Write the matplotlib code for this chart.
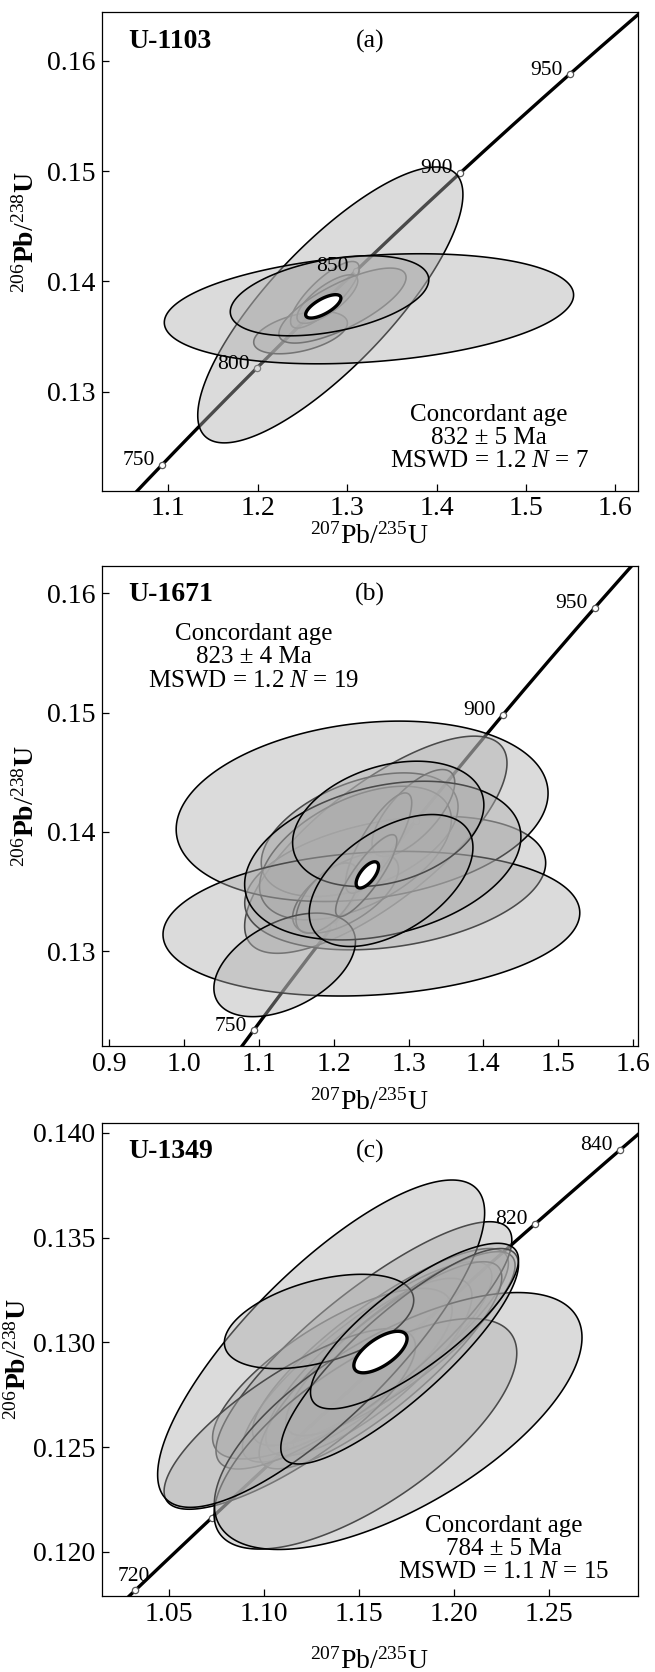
import numpy as np
import matplotlib
matplotlib.use('Agg')
import matplotlib.pyplot as plt

plt.rcParams['font.family'] = ['Liberation Serif', 'DejaVu Serif']
plt.rcParams['mathtext.fontset'] = 'custom'
plt.rcParams['mathtext.rm'] = 'Liberation Serif'
plt.rcParams['mathtext.it'] = 'Liberation Serif:italic'
plt.rcParams['mathtext.bf'] = 'Liberation Serif:bold'

# decay constants (1/yr) for the concordia curve
L238 = 1.55125e-10
L235 = 9.8485e-10

# --- (a) U-1103 : error ellipses, drawn in list order ---
# centre 207/235, centre 206/238, half-width, half-height, correlation
a_x = [1.2479, 1.2751, 1.2779, 1.2948, 1.2812, 1.3244, 1.2803]
a_y = [0.13536, 0.13879, 0.13840, 0.13781, 0.13787, 0.13752, 0.13870]
a_sx = [0.0524, 0.0384, 0.0340, 0.0711, 0.1483, 0.2289, 0.1110]
a_sy = [0.00192, 0.00302, 0.00220, 0.00340, 0.01251, 0.00499, 0.00363]
a_rho = [0.45, 0.80, 0.75, 0.75, 0.80, 0.25, 0.40]
a_conc = (1.2733, 0.13774, 0.0197, 0.00106, 0.70)
a_ages = [750, 800, 850, 900, 950]
a_labels = [750, 800, 850, 900, 950]

# --- (b) U-1671 ---
b_x = [1.2563, 1.2822, 1.2347, 1.2291, 1.2159, 1.1916, 1.3065, 1.2601,
       1.2380, 1.2504, 1.2435, 1.1345, 1.2656, 1.2729, 1.2767]
b_y = [0.13893, 0.13572, 0.13977, 0.13823, 0.13488, 0.13446, 0.14159, 0.13907,
       0.14173, 0.13231, 0.13634, 0.12886, 0.13760, 0.14068, 0.13593]
b_sx = [0.1753, 0.2011, 0.1315, 0.1282, 0.0707, 0.0420, 0.0553, 0.0442,
        0.2485, 0.2785, 0.0409, 0.0946, 0.1846, 0.1278, 0.1094]
b_sy = [0.00910, 0.00560, 0.00518, 0.00560, 0.00336, 0.00294, 0.00364, 0.00420,
        0.00756, 0.00606, 0.00343, 0.00434, 0.00665, 0.00525, 0.00553]
b_rho = [0.75, 0.30, 0.45, 0.50, 0.60, 0.60, 0.70, 0.80,
         0.20, 0.15, 0.85, 0.45, 0.30, 0.30, 0.50]
b_conc = (1.2450, 0.13640, 0.0150, 0.00110, 0.65)
b_ages = [750, 800, 850, 900, 950]
b_labels = [750, 900, 950]

# --- (c) U-1349 ---
c_x = [1.1542, 1.1612, 1.1551, 1.1359, 1.1717, 1.1612, 1.1525, 1.1135,
       1.1533, 1.1705, 1.1300, 1.1713, 1.1289, 1.1791]
c_y = [0.12907, 0.12978, 0.12883, 0.12851, 0.12994, 0.12891, 0.12986, 0.12635,
       0.12564, 0.12625, 0.12994, 0.12934, 0.13100, 0.13078]
c_sx = [0.0656, 0.0673, 0.0542, 0.0630, 0.0603, 0.0638, 0.0778, 0.0661,
        0.0796, 0.0967, 0.0860, 0.0625, 0.0498, 0.0547]
c_sy = [0.00478, 0.00470, 0.00423, 0.00407, 0.00439, 0.00494, 0.00590, 0.00431,
        0.00550, 0.00613, 0.00781, 0.00514, 0.00225, 0.00395]
c_rho = [0.85, 0.85, 0.80, 0.75, 0.85, 0.85, 0.85, 0.80,
         0.70, 0.65, 0.80, 0.85, 0.45, 0.80]
c_conc = (1.1612, 0.12954, 0.0140, 0.00099, 0.65)
c_ages = [720, 740, 760, 780, 800, 820, 840]
c_labels = [720, 820, 840]

FILL = (0.68, 0.68, 0.68, 0.43)


def concordia(age_ma):
    t = np.asarray(age_ma, float) * 1e6
    return np.expm1(L235 * t), np.expm1(L238 * t)


def ellipse(cx, cy, hx, hy, rho, n=240):
    t = np.linspace(0, 2 * np.pi, n)
    x = cx + hx * np.cos(t)
    y = cy + hy * (rho * np.cos(t) + np.sqrt(1 - rho ** 2) * np.sin(t))
    return x, y


def panel(ax, xs, ys, sxs, sys_, rhos, conc, ages, labels, age_span,
          name, tag, info, info_pos, xlim, ylim, xticks, yticks,
          xfmt, yfmt, xlab_y, ylab_pos, label_offsets=None):
    cx, cy = concordia(np.linspace(age_span[0], age_span[1], 400))
    ax.plot(cx, cy, color='black', lw=2.4, zorder=1, solid_capstyle='butt')
    mx, my = concordia(ages)
    ax.plot(mx, my, 'o', ms=4.5, mfc='white', mec='0.35', mew=0.9, zorder=1.5)

    for x, y, sx, sy, r in zip(xs, ys, sxs, sys_, rhos):
        ex, ey = ellipse(x, y, sx, sy, r)
        ax.fill(ex, ey, fc=FILL, ec='black', lw=1.15, zorder=2)
    ex, ey = ellipse(*conc)
    ax.fill(ex, ey, fc='white', ec='black', lw=2.4, zorder=3)

    for age in labels:
        lx, ly = concordia(age)
        off = (-5, 3)
        ha = 'right'
        if label_offsets and age in label_offsets:
            off, ha = label_offsets[age]
        ax.annotate(str(age), (lx, ly), xytext=off, textcoords='offset points',
                    ha=ha, va='center', fontsize=15.5, zorder=5)

    ax.text(0.05, 0.94, name, transform=ax.transAxes, fontsize=20,
            fontweight='bold', ha='left', va='center')
    ax.text(0.5, 0.94, tag, transform=ax.transAxes, fontsize=18.5,
            ha='center', va='center')
    ax.text(info_pos[0], info_pos[1], info, transform=ax.transAxes,
            fontsize=18, ha='center', va='center', linespacing=1.08, zorder=6)

    ax.set_xlim(*xlim)
    ax.set_ylim(*ylim)
    ax.set_xticks(xticks)
    ax.set_yticks(yticks)
    ax.set_xticklabels([xfmt % v for v in xticks])
    ax.set_yticklabels([yfmt % v for v in yticks])
    ax.tick_params(direction='in', length=5, width=0.9, labelsize=20)
    ax.tick_params(axis='x', pad=4)
    ax.tick_params(axis='y', pad=4.5)
    for s in ax.spines.values():
        s.set_linewidth(0.9)

    ax.set_xlabel(r'$^{207}$Pb/$^{235}$U', fontsize=20, va='center')
    ax.xaxis.set_label_coords(0.5, xlab_y)
    ax.set_ylabel(r'$^{206}\mathbf{Pb}/^{238}\mathbf{U}$', fontsize=20, va='center')
    ax.yaxis.set_label_coords(*ylab_pos)


fig = plt.figure(figsize=(6.55, 16.72), dpi=100)
ax_a = fig.add_axes([0.1553, 0.7065, 0.8183, 0.2861])
ax_b = fig.add_axes([0.1553, 0.3744, 0.8183, 0.2873])
ax_c = fig.add_axes([0.1553, 0.0452, 0.8183, 0.2834])

panel(ax_a, a_x, a_y, a_sx, a_sy, a_rho, a_conc, a_ages, a_labels, (650, 1050),
      'U-1103', '(a)', 'Concordant age\n832 ± 5 Ma\nMSWD = 1.2 $N$ = 7', (0.7226, 0.11),
      (1.0255, 1.625), (0.12102, 0.1644), [1.1, 1.2, 1.3, 1.4, 1.5, 1.6],
      [0.13, 0.14, 0.15, 0.16], '%.1f', '%.2f', -0.095, (-0.14, 0.54))

panel(ax_b, b_x, b_y, b_sx, b_sy, b_rho, b_conc, b_ages, b_labels, (650, 1050),
      'U-1671', '(b)', 'Concordant age\n823 ± 4 Ma\nMSWD = 1.2 $N$ = 19', (0.284, 0.809),
      (0.890, 1.6063), (0.12206, 0.16232), [0.9, 1.0, 1.1, 1.2, 1.3, 1.4, 1.5, 1.6],
      [0.13, 0.14, 0.15, 0.16], '%.1f', '%.2f', -0.117, (-0.14, 0.5))

panel(ax_c, c_x, c_y, c_sx, c_sy, c_rho, c_conc, c_ages, c_labels, (680, 880),
      'U-1349', '(c)', 'Concordant age\n784 ± 5 Ma\nMSWD = 1.1 $N$ = 15', (0.75, 0.10),
      (1.0146, 1.2965), (0.11788, 0.14049), [1.05, 1.10, 1.15, 1.20, 1.25],
      [0.120, 0.125, 0.130, 0.135, 0.140], '%.2f', '%.3f', -0.136, (-0.155, 0.5),
      label_offsets={720: ((-1, 10), 'center')})

fig.savefig('out.png', dpi=100)
